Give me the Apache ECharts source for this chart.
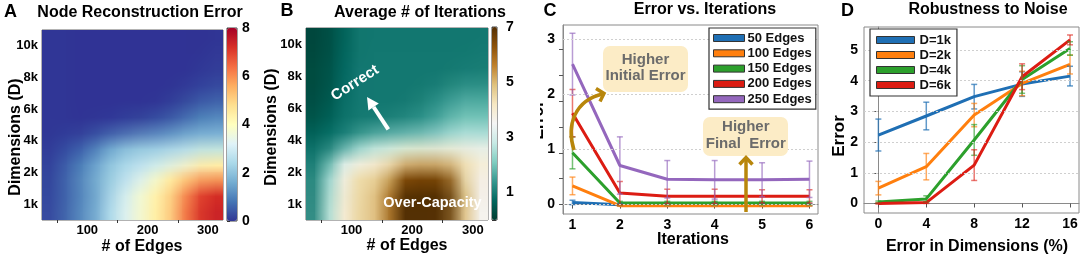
<!DOCTYPE html>
<html><head><meta charset="utf-8">
<script src="https://cdn.jsdelivr.net/npm/echarts@6/dist/echarts.min.js"></script>
<style>
html,body{margin:0;padding:0;background:#fff}
#wrap{position:relative;width:1084px;height:260px;background:#fff;overflow:hidden}
.heat{position:absolute;width:12px;height:12px;transform-origin:0 0;z-index:2}
#c{position:absolute;left:0;top:0;width:1084px;height:260px;z-index:1}
#ann{position:absolute;left:0;top:0;width:1084px;height:260px;z-index:3;pointer-events:none}
</style>
</head><body>
<div id="wrap"><div id="c"></div><div id="hA" class="heat"></div><div id="hB" class="heat"></div><div id="ann"></div></div>
<script>
const FONT = '"Liberation Sans", Arial, Helvetica, sans-serif';
const BOLD = s => `bold ${s}px ${FONT}`;

// ---------- Panels A / B : heatmaps ----------
const edgeCells = ['37.5','62.5','87.5','112.5','137.5','162.5','187.5','212.5','237.5','262.5','287.5','312.5'];
const dimCells = ['c0','c1','c2','c3','c4','c5','c6','c7','c8','c9','c10','c11'];
const dimLabels = ['1k','2k','4k','6k','8k','10k'];
const edgeLabels = [100, 200, 300];
const edgeTicks = [50, 150, 250];
// rows listed from top (10k) to bottom (1k)
const heatA = [
 [0.05,0.05,0,0,0,0,0,0,0,0,0,0],
 [0.05,0.05,0,0,0,0,0,0,0,0,0,0.05],
 [0.05,0.05,0,0,0,0,0,0,0,0,0.05,0.1],
 [0.05,0.05,0,0,0,0,0,0,0,0.05,0.1,0.2],
 [0.05,0.05,0,0,0,0,0,0,0.05,0.15,0.3,0.45],
 [0.05,0.05,0,0,0,0.05,0.05,0.1,0.25,0.45,0.75,0.95],
 [0.05,0.05,0.05,0.1,0.2,0.3,0.45,0.6,0.8,1.1,1.3,1.4],
 [0.05,0.2,0.35,0.7,1.3,1.7,1.9,2.0,2.1,2.2,2.3,2.4],
 [0.1,0.4,0.8,1.3,1.9,2.3,2.5,2.7,2.9,3.3,3.8,4.0],
 [0.15,0.5,1.0,1.5,2.1,2.5,2.9,3.5,4.2,4.8,5.2,5.4],
 [0.2,0.5,1.0,1.4,2.2,2.9,3.6,4.2,4.8,5.8,6.8,7.2],
 [0.2,0.5,1.0,1.4,2.3,3.0,3.6,4.3,4.8,6.0,7.0,7.4]
];
const heatB = [
 [0.2,0.3,0.6,0.95,0.95,0.95,0.95,0.95,0.95,0.95,0.95,0.95],
 [0.2,0.3,0.65,0.95,1.0,1.0,1.0,1.0,1.0,1.0,1.0,1.0],
 [0.25,0.35,0.7,1.0,1.0,1.0,1.0,1.0,1.0,1.0,1.0,1.0],
 [0.25,0.35,0.75,1.0,1.0,1.0,1.0,1.0,1.0,1.05,1.15,1.15],
 [0.3,0.4,0.8,1.0,1.0,1.0,1.0,1.05,1.15,1.35,1.55,1.55],
 [0.35,0.5,0.85,1.0,1.0,1.0,1.05,1.15,1.35,1.65,1.85,1.85],
 [0.5,0.7,0.9,1.05,1.15,1.25,1.35,1.45,1.65,1.95,2.25,2.25],
 [0.8,0.9,1.3,1.9,2.4,2.6,2.8,2.9,3.0,3.1,3.2,3.2],
 [0.9,1.5,2.9,3.4,3.7,4.0,4.5,4.6,4.6,4.5,4.3,3.9],
 [0.9,2.2,3.6,4.4,4.5,4.8,6.3,6.4,6.4,6.2,4.4,3.7],
 [0.9,2.4,3.8,4.5,4.6,5.5,7.0,7.0,7.0,6.9,5.0,3.6],
 [0.9,2.4,3.8,4.5,4.6,5.5,7.0,7.0,7.0,6.9,5.0,3.6]
];
const colorLabelsA = [0, 2, 4, 6, 8];
const colorTicksA = [0, 1, 2, 3, 4, 5, 6, 7, 8];
const colorLabelsB = [1, 3, 5, 7];
const colorTicksB = [0, 1, 2, 3, 4, 5, 6, 7];
const RdYlBu_r = ['#313695','#4575b4','#74add1','#abd9e9','#e0f3f8','#ffffbf','#fee090','#fdae61','#f46d43','#d73027','#a50026'];
const BrBG_r = ['#003c30','#01665e','#35978f','#80cdc1','#c7eae5','#f5f5f5','#f6e8c3','#dfc27d','#bf812d','#8c510a','#543005'];

// ---------- Panel C : error vs iterations ----------
const iterations = [1, 2, 3, 4, 5, 6];
const errLabelsC = [0, 1, 2, 3];
const errTicksC = [0, 0.47, 0.94, 1.41, 1.88, 2.35, 2.82];
const edges50 = [0.04, 0, 0, 0, 0, 0];
const edges50Err = [0.04, 0.02, 0.02, 0.02, 0.02, 0.02];
const edges100 = [0.34, -0.02, -0.02, -0.02, -0.02, -0.02];
const edges100Err = [0.16, 0.01, 0.01, 0.01, 0.01, 0.01];
const edges150 = [0.94, 0.03, 0.03, 0.03, 0.03, 0.03];
const edges150Err = [0.29, 0.03, 0.03, 0.03, 0.03, 0.03];
const edges200 = [1.66, 0.21, 0.15, 0.15, 0.15, 0.15];
const edges200Err = [0.43, 0.21, 0.13, 0.13, 0.12, 0.12];
const edges250 = [2.55, 0.71, 0.46, 0.45, 0.45, 0.46];
const edges250Err = [0.56, 0.52, 0.34, 0.35, 0.31, 0.33];
const namesC = ['50 Edges', '100 Edges', '150 Edges', '200 Edges', '250 Edges'];

// ---------- Panel D : robustness to noise ----------
const noiseLevels = [0, 4, 8, 12, 16];
const errLabelsD = [0, 1, 2, 3, 4, 5];
const gridValsD = [1, 2, 3, 4, 5];
const dim1k = [2.23, 2.85, 3.48, 3.89, 4.15];
const dim1kErr = [0.52, 0.45, 0.40, 0.40, 0.32];
const dim2k = [0.50, 1.20, 2.88, 3.91, 4.53];
const dim2kErr = [0.22, 0.43, 0.38, 0.40, 0.31];
const dim4k = [0.05, 0.15, 2.07, 4.04, 5.05];
const dim4kErr = [0.03, 0.10, 0.50, 0.45, 0.22];
const dim6k = [0.00, 0.03, 1.25, 4.13, 5.33];
const dim6kErr = [0.02, 0.03, 0.50, 0.42, 0.16];
const namesD = ['D=1k', 'D=2k', 'D=4k', 'D=6k'];

const lineColors = ['#1f6fb4', '#ff7f0e', '#2ca02c', '#dc1c13', '#9467bd'];
const barColors = ['rgba(31,111,180,0.7)', 'rgba(255,127,14,0.65)', 'rgba(44,160,44,0.65)', 'rgba(220,28,19,0.6)', 'rgba(148,103,189,0.65)'];

// ---------- layout (pixels) ----------
const plotA = { left: 42, top: 30, width: 181, height: 190 };
const plotB = { left: 306, top: 28, width: 182, height: 192 };

// ---------- helpers ----------
function heatData(rows) {
  const out = [];
  rows.forEach((row, i) => {
    const yi = rows.length - 1 - i;
    row.forEach((v, xi) => out.push([xi, yi, v]));
  });
  return out;
}
const pairs = (xs, ys) => xs.map((x, i) => [x, ys[i]]);
const triples = (xs, ys, es) => xs.map((x, i) => [x, ys[i], es[i]]);
const tickLabel = { fontFamily: FONT, fontWeight: 'bold', fontSize: 14, color: '#000' };
const heatTick = { fontFamily: FONT, fontWeight: 'bold', fontSize: 13, color: '#000' };

function errRender(color) {
  return function (params, api) {
    const x = api.value(0), y = api.value(1), e = api.value(2);
    const t = api.coord([x, y + e]), b = api.coord([x, y - e]);
    const hw = 3, st = { stroke: color, lineWidth: 1.5 };
    return { type: 'group', children: [
      { type: 'line', shape: { x1: t[0], y1: t[1], x2: b[0], y2: b[1] }, style: st },
      { type: 'line', shape: { x1: t[0] - hw, y1: t[1], x2: t[0] + hw, y2: t[1] }, style: st },
      { type: 'line', shape: { x1: b[0] - hw, y1: b[1], x2: b[0] + hw, y2: b[1] }, style: st }
    ]};
  };
}
function lineSeries(name, xs, ys, color, axis, extra) {
  return Object.assign({ name, type: 'line', xAxisIndex: axis, yAxisIndex: axis, data: pairs(xs, ys),
    color, showSymbol: false, symbol: 'none', lineStyle: { width: 3, color }, z: 3,
    emphasis: { disabled: true } }, extra || {});
}
function errSeries(xs, ys, es, color, axis) {
  return { type: 'custom', xAxisIndex: axis, yAxisIndex: axis, data: triples(xs, ys, es),
    encode: { x: 0, y: 1 }, renderItem: errRender(color), z: 4, silent: true };
}
function gridMarks(vals) {
  return { silent: true, symbol: ['none', 'none'], label: { show: false },
    lineStyle: { type: [2, 2], color: '#cfcfcf', width: 1 },
    data: vals.map(v => ({ yAxis: v })) };
}
function txt(x, y, text, size, o) {
  o = o || {};
  const el = { type: 'text', x, y, z: 60, style: { text, fill: o.fill || '#000', font: BOLD(size),
    align: o.align || 'center', verticalAlign: 'middle' } };
  if (o.rot != null) el.rotation = o.rot;
  if (o.shadow) { el.style.shadowColor = 'rgba(0,0,0,0.55)'; el.style.shadowBlur = 3; }
  return el;
}

// ---------- heatmap layers: drawn one cell per pixel, then scaled (smooth) ----------
function heatLayer(id, plot, rows, min, max, colors) {
  const el = document.getElementById(id);
  el.style.left = plot.left + 'px';
  el.style.top = plot.top + 'px';
  el.style.width = rows[0].length + 'px';
  el.style.height = rows.length + 'px';
  el.style.transform = `scale(${plot.width / rows[0].length}, ${plot.height / rows.length})`;
  const h = echarts.init(el, null, { devicePixelRatio: 1 });
  h.setOption({
    animation: false,
    grid: { left: 0, top: 0, right: 0, bottom: 0 },
    xAxis: { type: 'category', data: edgeCells, show: false },
    yAxis: { type: 'category', data: dimCells, show: false },
    visualMap: { show: false, min, max, inRange: { color: colors } },
    series: [{ type: 'heatmap', data: heatData(rows), itemStyle: { borderWidth: 0, opacity: 1 },
      emphasis: { disabled: true }, silent: true }]
  });
}
heatLayer('hA', plotA, heatA, 0, 8, RdYlBu_r);
heatLayer('hB', plotB, heatB, 0, 7, BrBG_r);

const hiddenVal = grid => ({ gridIndex: grid, type: 'value', show: false, min: 0, max: 1 });
const frame = (box, color) => Object.assign({ show: true, borderColor: color, borderWidth: 1, backgroundColor: 'rgba(0,0,0,0)' }, box);

const option = {
  animation: false,
  backgroundColor: 'rgba(0,0,0,0)',
  grid: [
    frame(plotA, '#666'),                                            // 0 A axes
    frame({ left: 227, top: 28, width: 10, height: 193 }, '#444'),  // 1 A colorbar
    frame(plotB, '#666'),                                            // 2 B axes
    frame({ left: 492, top: 27, width: 5, height: 193 }, '#444'),   // 3 B colorbar
    frame({ left: 563, top: 25, width: 255, height: 189 }, '#8a8a8a'), // 4 C
    frame({ left: 864, top: 27, width: 215, height: 186 }, '#8a8a8a')  // 5 D
  ],
  xAxis: [
    { gridIndex: 0, type: 'value', min: 25, max: 325, axisLine: { show: false }, splitArea: { show: false },
      axisTick: { show: true, customValues: edgeTicks, length: 3, lineStyle: { color: '#333' } },
      axisLabel: Object.assign({ customValues: edgeLabels, margin: 4 }, heatTick), splitLine: { show: false } },
    hiddenVal(1),
    { gridIndex: 2, type: 'value', min: 25, max: 325, axisLine: { show: false }, splitArea: { show: false },
      axisTick: { show: true, customValues: edgeTicks, length: 3, lineStyle: { color: '#333' } },
      axisLabel: Object.assign({ customValues: edgeLabels, margin: 4 }, heatTick), splitLine: { show: false } },
    hiddenVal(3),
    { gridIndex: 4, type: 'value', min: 0.8, max: 6.18, axisLine: { lineStyle: { color: '#8a8a8a' } },
      axisTick: { customValues: iterations, length: 4, lineStyle: { color: '#555' } },
      axisLabel: Object.assign({ customValues: iterations, margin: 4 }, tickLabel), splitLine: { show: false } },
    { gridIndex: 5, type: 'value', min: -1.2, max: 16.75, axisLine: { lineStyle: { color: '#8a8a8a' } },
      axisTick: { customValues: noiseLevels, length: 4, lineStyle: { color: '#555' } },
      axisLabel: Object.assign({ customValues: noiseLevels, margin: 4 }, tickLabel), splitLine: { show: false } }
  ],
  yAxis: [
    { gridIndex: 0, type: 'category', data: dimLabels, axisLine: { show: false }, splitArea: { show: false },
      axisTick: { alignWithLabel: true, length: 3, lineStyle: { color: '#333' } },
      axisLabel: Object.assign({ margin: 4 }, heatTick), splitLine: { show: false } },
    { gridIndex: 1, type: 'value', position: 'right', min: 0, max: 8, axisLine: { show: false },
      axisTick: { customValues: colorTicksA, length: 3, lineStyle: { color: '#333' } },
      axisLabel: Object.assign({ customValues: colorLabelsA, margin: 5 }, tickLabel), splitLine: { show: false } },
    { gridIndex: 2, type: 'category', data: dimLabels, axisLine: { show: false }, splitArea: { show: false },
      axisTick: { alignWithLabel: true, length: 3, lineStyle: { color: '#333' } },
      axisLabel: Object.assign({ margin: 4 }, heatTick), splitLine: { show: false } },
    { gridIndex: 3, type: 'value', position: 'right', min: 0, max: 7, axisLine: { show: false },
      axisTick: { customValues: colorTicksB, length: 4, lineStyle: { color: '#333' } },
      axisLabel: Object.assign({ customValues: colorLabelsB, margin: 9 }, tickLabel), splitLine: { show: false } },
    { gridIndex: 4, type: 'value', min: -0.17, max: 3.26, axisLine: { lineStyle: { color: '#8a8a8a' } },
      axisTick: { customValues: errTicksC, length: 4, lineStyle: { color: '#555' } },
      axisLabel: Object.assign({ customValues: errLabelsC, margin: 8 }, tickLabel), splitLine: { show: false } },
    { gridIndex: 5, type: 'value', min: -0.31, max: 5.75, axisLine: { lineStyle: { color: '#8a8a8a' } },
      axisTick: { customValues: errLabelsD, length: 4, lineStyle: { color: '#555' } },
      axisLabel: Object.assign({ customValues: errLabelsD, margin: 6 }, tickLabel), splitLine: { show: false } }
  ],
  visualMap: [
    { type: 'continuous', seriesIndex: [], min: 0, max: 8, inRange: { color: RdYlBu_r },
      left: 227, top: 28, itemWidth: 10, itemHeight: 193, calculable: false, padding: 0,
      orient: 'vertical', hoverLink: false, text: null, showLabel: false },
    { type: 'continuous', seriesIndex: [], min: 0, max: 7, inRange: { color: BrBG_r },
      left: 492, top: 27, itemWidth: 5, itemHeight: 193, calculable: false, padding: 0,
      orient: 'vertical', hoverLink: false, text: null, showLabel: false }
  ],
  legend: [
    { data: namesC, orient: 'vertical', left: 709, top: 28, icon: 'rect', itemWidth: 31, itemHeight: 7,
      itemGap: 1.3, padding: [3, 4, 3, 4], borderColor: '#333', borderWidth: 1.2, backgroundColor: '#fff',
      itemStyle: { borderColor: '#333', borderWidth: 1 }, selectedMode: false, z: 20,
      textStyle: { fontFamily: FONT, fontWeight: 'bold', fontSize: 13, color: '#111', lineHeight: 14, padding: [0, 0, 0, -2] } },
    { data: namesD, orient: 'vertical', left: 870, top: 29, icon: 'rect', itemWidth: 38, itemHeight: 7,
      itemGap: 1, padding: [4, 6, 4, 6], borderColor: '#333', borderWidth: 1.2, backgroundColor: '#fff',
      itemStyle: { borderColor: '#333', borderWidth: 1 }, selectedMode: false, z: 20,
      textStyle: { fontFamily: FONT, fontWeight: 'bold', fontSize: 13, color: '#111', lineHeight: 14 } }
  ],
  series: [
    lineSeries(namesC[0], iterations, edges50, lineColors[0], 4, { markLine: gridMarks(errLabelsC), z: 2 }),
    lineSeries(namesC[1], iterations, edges100, lineColors[1], 4),
    lineSeries(namesC[2], iterations, edges150, lineColors[2], 4),
    lineSeries(namesC[3], iterations, edges200, lineColors[3], 4),
    lineSeries(namesC[4], iterations, edges250, lineColors[4], 4),
    errSeries(iterations, edges50, edges50Err, barColors[0], 4),
    errSeries(iterations, edges100, edges100Err, barColors[1], 4),
    errSeries(iterations, edges150, edges150Err, barColors[2], 4),
    errSeries(iterations, edges200, edges200Err, barColors[3], 4),
    errSeries(iterations, edges250, edges250Err, barColors[4], 4),
    lineSeries(namesD[0], noiseLevels, dim1k, lineColors[0], 5, { markLine: gridMarks(gridValsD), z: 2 }),
    lineSeries(namesD[1], noiseLevels, dim2k, lineColors[1], 5),
    lineSeries(namesD[2], noiseLevels, dim4k, lineColors[2], 5),
    lineSeries(namesD[3], noiseLevels, dim6k, lineColors[3], 5),
    errSeries(noiseLevels, dim1k, dim1kErr, barColors[0], 5),
    errSeries(noiseLevels, dim2k, dim2kErr, barColors[1], 5),
    errSeries(noiseLevels, dim4k, dim4kErr, barColors[2], 5),
    errSeries(noiseLevels, dim6k, dim6kErr, barColors[3], 5)
  ],
  graphic: [
    // panel letters and titles
    txt(10.5, 12, 'A', 18), txt(140, 13, 'Node Reconstruction Error', 16),
    txt(287, 11, 'B', 18), txt(420, 13, 'Average # of Iterations', 16),
    txt(550, 11, 'C', 18), txt(705, 10, 'Error vs. Iterations', 16),
    txt(847.5, 11, 'D', 18), txt(988, 10, 'Robustness to Noise', 16),
    // axis names
    txt(142, 247, '# of Edges', 16), txt(16, 137, 'Dimensions (D)', 16, { rot: Math.PI / 2 }),
    txt(407, 246, '# of Edges', 16), txt(272, 127, 'Dimensions (D)', 16, { rot: Math.PI / 2 }),
    txt(693, 240, 'Iterations', 16), txt(539, 120, 'Error', 16, { rot: Math.PI / 2 }),
    { type: 'rect', z: 61, shape: { x: 526, y: 90, width: 14, height: 60 }, style: { fill: '#fff' } },
    txt(977, 247, 'Error in Dimensions (%)', 16), txt(839, 136, 'Error', 17, { rot: Math.PI / 2 }),
    // panel C annotations
    { type: 'rect', z: 55, shape: { x: 603, y: 46, width: 85, height: 46, r: 7 }, style: { fill: '#fcecc6' } },
    txt(645.5, 60, 'Higher', 15, { fill: '#6b6b6b' }), txt(645.5, 76, 'Initial Error', 15, { fill: '#6b6b6b' }),
    { type: 'rect', z: 55, shape: { x: 703, y: 117, width: 85, height: 39, r: 7 }, style: { fill: '#fcecc6' } },
    txt(745.8, 127, 'Higher', 15, { fill: '#6b6b6b' }), txt(745.8, 143.5, 'Final  Error', 15, { fill: '#6b6b6b' }),
    { type: 'bezierCurve', z: 62, shape: { x1: 574, y1: 150, cpx1: 566, cpy1: 125, cpx2: 575, cpy2: 100, x2: 603, y2: 94 },
      style: { stroke: '#b8860b', lineWidth: 3.5, fill: null } },
    { type: 'polyline', z: 62, shape: { points: [[596, 88.5], [604, 93.5], [600, 101.5]] },
      style: { stroke: '#b8860b', lineWidth: 3.5, fill: null } },
    { type: 'line', z: 62, shape: { x1: 746, y1: 212, x2: 746, y2: 158 }, style: { stroke: '#b8860b', lineWidth: 3.5 } },
    { type: 'polyline', z: 62, shape: { points: [[739.5, 164.5], [746, 157.5], [752.5, 164.5]] },
      style: { stroke: '#b8860b', lineWidth: 3.5, fill: null } }
  ]
};

const chart = echarts.init(document.getElementById('c'), null, { devicePixelRatio: 1 });
chart.setOption(option);

// panel B annotations, drawn above the heatmap layer
const ann = echarts.init(document.getElementById('ann'), null, { devicePixelRatio: 1 });
ann.setOption({
  animation: false,
  backgroundColor: 'rgba(0,0,0,0)',
  graphic: [
    txt(355, 83, 'Correct', 15, { fill: '#fff', rot: 0.57, shadow: true }),
    { type: 'line', z: 60, shape: { x1: 388.3, y1: 129.3, x2: 373.6, y2: 107 }, style: { stroke: '#fff', lineWidth: 4 } },
    { type: 'polygon', z: 60, shape: { points: [[367, 97], [378.8, 103.6], [368.4, 110.4]] }, style: { fill: '#fff' } },
    txt(432.5, 203, 'Over-Capacity', 14.5, { fill: '#fff', shadow: true })
  ]
});
</script>
</body></html>
